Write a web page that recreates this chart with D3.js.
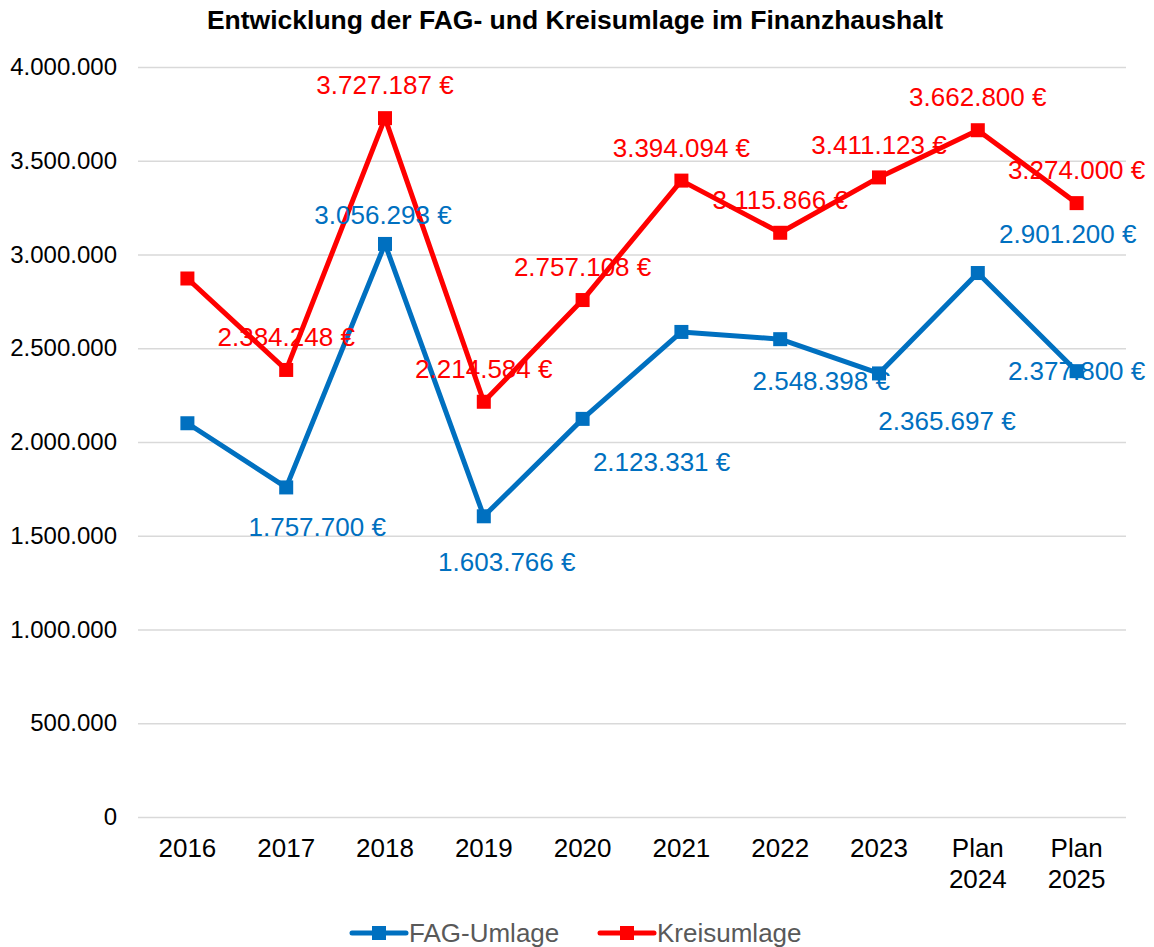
<!DOCTYPE html>
<html>
<head>
<meta charset="utf-8">
<script src="https://cdn.jsdelivr.net/npm/d3@7"></script>
<style>
  body { margin: 0; background: #fff; }
  text { font-family: "Liberation Sans", Arial, sans-serif; }
</style>
</head>
<body>
<svg id="chart" width="1154" height="947"></svg>
<script>
// chart data
var categories = ["2016", "2017", "2018", "2019", "2020", "2021", "2022", "2023", "Plan 2024", "Plan 2025"];
var fagValues = [2100000, 1757700, 3056293, 1603766, 2123331, 2587000, 2548398, 2365697, 2901200, 2377800];
var kreisValues = [2872000, 2384248, 3727187, 2214584, 2757108, 3394094, 3115866, 3411123, 3662800, 3274000];
var yTicks = [0, 500000, 1000000, 1500000, 2000000, 2500000, 3000000, 3500000, 4000000];

// which labels are shown (the unlabelled ones were hidden in the original)
var fagShowLabel = [false, true, true, true, true, false, true, true, true, true];
var kreisShowLabel = [false, true, true, true, true, true, true, true, true, true];

// hand placed label offsets (px, from the point to the text centre)
var fagLabelDx = [0, 31, -2, 23, 79, 0, 41, 68, 90, 0];
var fagLabelDy = [0, 39, -29, 46, 43, 0, 42, 47, -39, 0];
var kreisLabelDy = -33;

var svg = d3.select("#chart");
var plotLeft = 138, plotRight = 1126, plotTop = 67, plotBottom = 817;

var de = d3.formatLocale({ decimal: ",", thousands: ".", grouping: [3], currency: ["", " €"] });
var fmtTick = de.format(",d");
var fmtEuro = function(v) { return de.format(",d")(v) + " €"; };

var x = d3.scaleBand().domain(categories).range([plotLeft, plotRight]);
var y = d3.scaleLinear().domain([0, 4000000]).range([plotBottom, plotTop]);
function cx(i) { return x(categories[i]) + x.bandwidth() / 2; }

// title
svg.append("text")
   .attr("x", 575).attr("y", 20).attr("dy", "0.35em")
   .attr("text-anchor", "middle")
   .style("font-size", "26.5px").style("font-weight", "bold")
   .text("Entwicklung der FAG- und Kreisumlage im Finanzhaushalt");

// gridlines + y labels
var yAxis = d3.axisLeft(y).tickValues(yTicks).tickSize(-(plotRight - plotLeft)).tickPadding(21).tickFormat(fmtTick);
var gy = svg.append("g").attr("transform", "translate(" + plotLeft + ",0)").call(yAxis);
gy.select(".domain").remove();
gy.selectAll(".tick line").attr("stroke", "#d9d9d9").attr("stroke-width", 1.5);
gy.selectAll(".tick text").attr("fill", "#000").style("font-size", "24px")
  .style("font-family", "'Liberation Sans', Arial, sans-serif");

// x labels, "Plan 2024" goes on two lines
var xAxis = d3.axisBottom(x).tickSize(0).tickPadding(0);
var gx = svg.append("g").attr("transform", "translate(0," + plotBottom + ")").call(xAxis);
gx.select(".domain").remove();
gx.selectAll(".tick text").each(function(d) {
   var t = d3.select(this).text(null)
      .attr("fill", "#000").attr("y", 0).attr("dy", null)
      .style("font-size", "26px")
      .style("font-family", "'Liberation Sans', Arial, sans-serif");
   d.split(" ").forEach(function(part, i) {
      t.append("tspan").attr("x", 0).attr("y", 40 + i * 31).text(part);
   });
});

var series = [
   { name: "FAG-Umlage", color: "#0070c0", values: fagValues, show: fagShowLabel },
   { name: "Kreisumlage", color: "#ff0000", values: kreisValues, show: kreisShowLabel }
];

var line = d3.line()
   .x(function(d, i) { return cx(i); })
   .y(function(d) { return y(d); });

series.forEach(function(s) {
   svg.append("path")
      .attr("d", line(s.values))
      .attr("fill", "none")
      .attr("stroke", s.color)
      .attr("stroke-width", 5)
      .attr("stroke-linejoin", "round");

   svg.selectAll(null)
      .data(s.values)
      .enter().append("rect")
      .attr("x", function(d, i) { return cx(i) - 7; })
      .attr("y", function(d) { return y(d) - 7; })
      .attr("width", 14).attr("height", 14)
      .attr("fill", s.color);
});

// data labels
function addLabels(s, dxFn, dyFn) {
   var idx = d3.range(s.values.length).filter(function(i) { return s.show[i]; });
   svg.selectAll(null)
      .data(idx)
      .enter().append("text")
      .attr("x", function(i) { return cx(i) + dxFn(i); })
      .attr("y", function(i) { return y(s.values[i]) + dyFn(i); })
      .attr("dy", "0.35em")
      .attr("text-anchor", "middle")
      .attr("fill", s.color)
      .style("font-size", "26px")
      .text(function(i) { return fmtEuro(s.values[i]); });
}
addLabels(series[1], function() { return 0; }, function() { return kreisLabelDy; });
addLabels(series[0], function(i) { return fagLabelDx[i]; }, function(i) { return fagLabelDy[i]; });

// legend
var legendX = [350, 598];
series.forEach(function(s, i) {
   var g = svg.append("g").attr("transform", "translate(" + legendX[i] + ",933)");
   g.append("line").attr("x1", 2).attr("x2", 56).attr("y1", 0).attr("y2", 0)
    .attr("stroke", s.color).attr("stroke-width", 5).attr("stroke-linecap", "round");
   g.append("rect").attr("x", 22).attr("y", -7).attr("width", 14).attr("height", 14).attr("fill", s.color);
   g.append("text").attr("x", 59).attr("y", 0).attr("dy", "0.35em")
    .attr("fill", "#595959").style("font-size", "26px").text(s.name);
});
</script>
</body>
</html>
